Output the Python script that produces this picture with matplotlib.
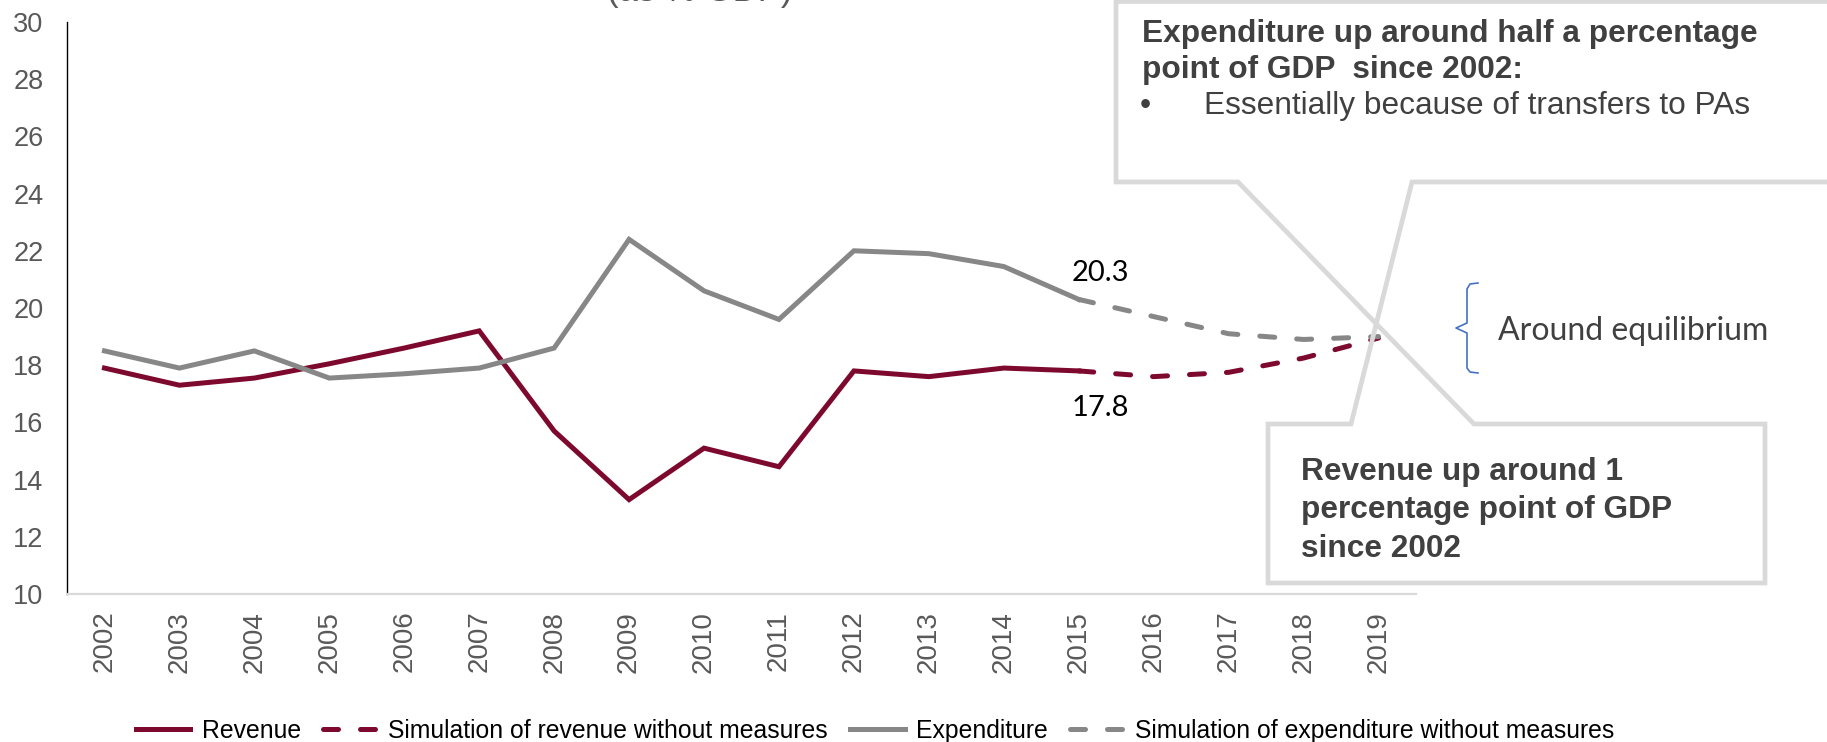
import numpy as np
import matplotlib
matplotlib.use("Agg")
import matplotlib.pyplot as plt
from matplotlib import font_manager
from matplotlib.lines import Line2D

# Fiscal balance data, % of GDP
years = [str(y) for y in range(2002, 2020)]
revenue = [17.9, 17.3, 17.55, 18.05, 18.6, 19.2, 15.7, 13.3, 15.1, 14.45, 17.8, 17.6, 17.9, 17.8]
expenditure = [18.5, 17.9, 18.5, 17.55, 17.7, 17.9, 18.6, 22.4, 20.6, 19.6, 22.0, 21.9, 21.45, 20.3]
# simulations start from the last observed year (2015)
sim_revenue = [17.8, 17.6, 17.75, 18.25, 18.95]
sim_expenditure = [20.3, 19.7, 19.1, 18.9, 19.0]

RED = "#7D0A2E"
GREY = "#878787"
BOX = "#D9D9D9"
TXT = "#404040"
TICK = "#595959"

W, H = 1827, 742

names = {f.name for f in font_manager.fontManager.ttflist}
NARROW = "Liberation Sans Narrow" if "Liberation Sans Narrow" in names else "Liberation Sans"
leg_size = 19.7 if NARROW == "Liberation Sans Narrow" else 17.8
plt.rcParams["font.family"] = ["Liberation Sans", "DejaVu Sans"]


def fx(x):
    return x / W


def fy(y):
    return 1 - y / H


fig = plt.figure(figsize=(W / 100, H / 100), dpi=100)
ax = fig.add_axes([fx(67), fy(594), fx(1416) - fx(67), fy(22) - fy(594)])

x_obs = np.arange(len(revenue))
x_sim = np.arange(len(revenue) - 1, len(years))

ax.plot(x_obs, revenue, color=RED, lw=3.6, solid_joinstyle="miter", label="Revenue")
ax.plot(x_sim, sim_revenue, color=RED, lw=3.6, dashes=(3.0, 4.4), dash_capstyle="round",
        label="Simulation of revenue without measures")
ax.plot(x_obs, expenditure, color=GREY, lw=3.6, solid_joinstyle="miter", label="Expenditure")
ax.plot(x_sim, sim_expenditure, color=GREY, lw=3.6, dashes=(3.0, 4.4), dash_capstyle="round",
        label="Simulation of expenditure without measures")

ax.set_xlim(-0.5, len(years) - 0.5)
ax.set_ylim(10, 30)
ax.set_yticks(range(10, 31, 2))
ax.set_xticks(range(len(years)))
ax.set_xticklabels(years, rotation=90)
ax.tick_params(axis="y", length=0, pad=17, labelsize=19.5, labelcolor=TICK)
ax.tick_params(axis="x", length=0, pad=12, labelsize=20, labelcolor=TICK)
for s in ("top", "right"):
    ax.spines[s].set_visible(False)
ax.spines["left"].set_color("black")
ax.spines["left"].set_linewidth(1.0)
ax.spines["bottom"].set_color(BOX)
ax.spines["bottom"].set_linewidth(1.6)

# value labels at the last observed year
last = len(revenue) - 1
ax.annotate(f"{expenditure[last]:.1f}", xy=(last, expenditure[last]), xytext=(22, 26),
            textcoords="offset pixels", ha="center", va="center", fontsize=21,
            family="Lato", color="black")
ax.annotate(f"{revenue[last]:.1f}", xy=(last, revenue[last]), xytext=(22, -37),
            textcoords="offset pixels", ha="center", va="center", fontsize=21,
            family="Lato", color="black")

# partially visible title above the frame
fig.text(fx(700), fy(1), "(as % GDP)", ha="center", va="baseline", fontsize=25, color=TICK)

# callout outline: upper box, crossed pointers, lower box
outline = [(1840, 182), (1412, 182), (1351, 424), (1268, 424), (1268, 583), (1765, 583),
           (1765, 424), (1474, 424), (1238, 182), (1116, 182), (1116, 1.5), (1840, 1.5)]
ox, oy = zip(*outline)
fig.add_artist(Line2D([fx(v) for v in ox], [fy(v) for v in oy], color=BOX, lw=3.4,
                      solid_joinstyle="miter", transform=fig.transFigure))

fig.text(fx(1142), fy(42), "Expenditure up around half a percentage", fontsize=22.8,
         weight="bold", color=TXT, va="baseline")
fig.text(fx(1142), fy(78), "point of GDP  since 2002:", fontsize=22.8,
         weight="bold", color=TXT, va="baseline")
fig.text(fx(1140), fy(114), "\u2022", fontsize=22.8, color=TXT, va="baseline")
fig.text(fx(1204), fy(114), "Essentially because of transfers to PAs", fontsize=22.8,
         color=TXT, va="baseline")

fig.text(fx(1301), fy(480), "Revenue up around 1", fontsize=22.8, weight="bold",
         color=TXT, va="baseline")
fig.text(fx(1301), fy(518), "percentage point of GDP", fontsize=22.8, weight="bold",
         color=TXT, va="baseline")
fig.text(fx(1301), fy(557), "since 2002", fontsize=22.8, weight="bold",
         color=TXT, va="baseline")

# brace next to the convergence point
brace = [(1478, 283), (1470, 284), (1467, 289), (1467, 323), (1456, 328), (1467, 333),
         (1467, 368), (1470, 372), (1478, 373)]
bx, by = zip(*brace)
fig.add_artist(Line2D([fx(v) for v in bx], [fy(v) for v in by], color="#4472C4", lw=1.2,
                      transform=fig.transFigure))
fig.text(fx(1498), fy(340), "Around equilibrium", fontsize=23, family="Lato",
         color=TXT, va="baseline")

handles, labels = ax.get_legend_handles_labels()
fig.legend(handles, labels, ncol=4, loc="center left", bbox_to_anchor=(fx(136), fy(731)),
           frameon=False, borderpad=0, borderaxespad=0, handlelength=2.2,
           handletextpad=0.45, columnspacing=0.9, prop={"family": NARROW, "size": leg_size})

fig.savefig("out.png", dpi=100)
